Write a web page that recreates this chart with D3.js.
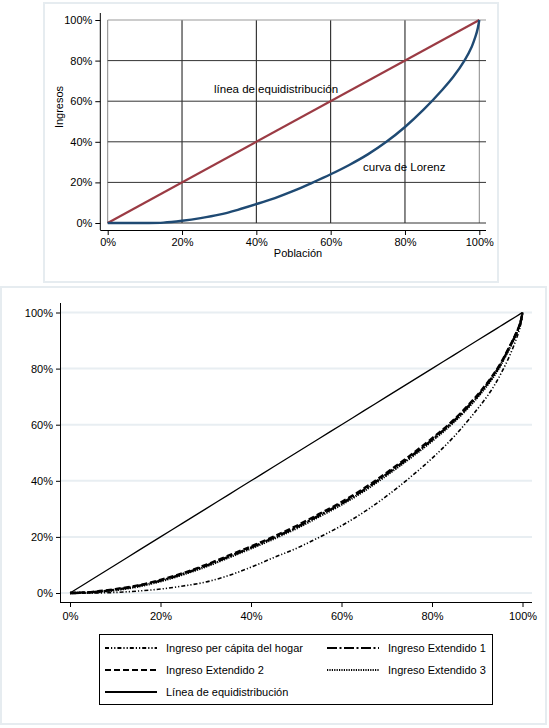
<!DOCTYPE html>
<html>
<head>
<meta charset="utf-8">
<script src="https://cdn.jsdelivr.net/npm/d3@7"></script>
<style>
    body { margin: 0; background: #fff; }
    svg text { font-family: "Liberation Sans", Arial, sans-serif; fill: #000; }
</style>
</head>
<body>
<div id="chart"></div>
<script>
// ---- data ----
var ticks = [0, 20, 40, 60, 80, 100];

// top chart: Lorenz curve example
var lorenzPop = [0, 10, 15, 20, 25, 30, 35, 40, 45, 50, 55, 60, 65, 70, 75, 80, 85, 90, 93, 96, 98, 99, 99.6, 100];
var lorenzInc = [0, 0, 0.2, 1.1, 2.4, 4.1, 6.5, 9.3, 12.3, 15.8, 19.8, 24, 28.6, 33.8, 40, 47.3, 55.8, 65.5, 72, 80, 87, 92, 96, 100];

// bottom chart: four income definitions
var pop = [0, 5, 10, 15, 20, 25, 30, 35, 40, 45, 50, 55, 60, 65, 70, 75, 80, 85, 90, 93, 95, 97, 98.5, 99.5, 100];
var percapita = [0, 0, 0.2, 0.7, 1.4, 2.5, 3.9, 6.2, 9.2, 12.6, 15.9, 19.8, 24, 28.9, 34.6, 41, 48, 56, 65.5, 72, 77.5, 84, 90, 95, 100];
var extendido1 = [0, 0.3, 1.2, 2.5, 4.4, 6.8, 9.7, 12.9, 16.2, 19.7, 23.4, 27.6, 31.9, 36.8, 42.4, 48.3, 54.6, 61.6, 70.1, 76.2, 81.1, 87.2, 92.1, 96.1, 100];
var extendido2 = [0, 0.4, 1.4, 2.7, 4.7, 7.1, 10.0, 13.3, 16.6, 20.1, 23.9, 28.1, 32.4, 37.3, 42.9, 48.8, 55.1, 62.0, 70.5, 76.6, 81.4, 87.4, 92.3, 96.2, 100];
var extendido3 = [0, 0.2, 1.0, 2.3, 4.2, 6.6, 9.4, 12.6, 15.9, 19.3, 23.0, 27.2, 31.5, 36.4, 42.0, 47.9, 54.2, 61.2, 69.7, 75.8, 80.8, 86.9, 91.9, 96.0, 100];

var legendLabels = ["Ingreso per cápita del hogar", "Ingreso Extendido 1", "Ingreso Extendido 2",
                    "Ingreso Extendido 3", "Línea de equidistribución"];

function pct(d) { return d + "%"; }

function init() {
    var svg = d3.select("#chart")
        .append("svg")
        .attr("width", 549)
        .attr("height", 728);

    topChart(svg);
    bottomChart(svg);
}

function topChart(svg) {
    svg.append("rect")
        .attr("x", 44).attr("y", 3)
        .attr("width", 454).attr("height", 279)
        .style("fill", "#fff")
        .style("stroke", "#e6ecf0")
        .style("stroke-width", 2);

    var xScale = d3.scaleLinear().domain([0, 100]).range([107.7, 479.3]);
    var yScale = d3.scaleLinear().domain([0, 100]).range([223, 20]);

    var g = svg.append("g");

    // grid
    g.selectAll(".vgrid")
        .data(ticks)
        .enter().append("line")
        .attr("x1", function(d) { return xScale(d); })
        .attr("x2", function(d) { return xScale(d); })
        .attr("y1", yScale(100))
        .attr("y2", yScale(0))
        .style("stroke", function(d) { return (d == 0 || d == 100) ? "#888" : "#111"; })
        .style("stroke-width", 1);

    g.selectAll(".hgrid")
        .data(ticks)
        .enter().append("line")
        .attr("x1", xScale(0))
        .attr("x2", 486)
        .attr("y1", function(d) { return yScale(d); })
        .attr("y2", function(d) { return yScale(d); })
        .style("stroke", function(d) { return d == 100 ? "#999" : "#333"; })
        .style("stroke-width", 1);

    // axes
    var xAxis = g.append("g")
        .attr("transform", "translate(0,230)")
        .call(d3.axisBottom(xScale).tickValues(ticks).tickFormat(pct).tickSize(5).tickPadding(3));
    xAxis.select(".domain").attr("d", "M100.3,0.5H486");

    var yAxis = g.append("g")
        .attr("transform", "translate(100.3,0)")
        .call(d3.axisLeft(yScale).tickValues(ticks).tickFormat(pct).tickSize(5).tickPadding(3));
    yAxis.select(".domain").attr("d", "M0,13V230");

    g.selectAll(".tick text")
        .style("font-size", "11px")
        .style("font-family", "Liberation Sans, Arial, sans-serif");

    var line = d3.line()
        .x(function(d) { return xScale(d[0]); })
        .y(function(d) { return yScale(d[1]); })
        .curve(d3.curveCatmullRom.alpha(0.5));

    // equidistribution line
    g.append("path")
        .datum([[0, 0], [100, 100]])
        .attr("d", line)
        .style("stroke", "#9b3b44")
        .style("stroke-width", 2.2)
        .style("fill", "none");

    // Lorenz curve
    g.append("path")
        .datum(d3.zip(lorenzPop, lorenzInc))
        .attr("d", line)
        .style("stroke", "#1f4a73")
        .style("stroke-width", 2.4)
        .style("fill", "none");

    g.append("text")
        .attr("x", 214).attr("y", 93)
        .style("font-size", "11.5px")
        .text("línea de equidistribución");

    g.append("text")
        .attr("x", 363).attr("y", 171)
        .style("font-size", "11.5px")
        .text("curva de Lorenz");

    g.append("text")
        .attr("transform", "translate(63,107) rotate(-90)")
        .attr("text-anchor", "middle")
        .style("font-size", "11px")
        .text("Ingresos");

    g.append("text")
        .attr("x", 298).attr("y", 257)
        .attr("text-anchor", "middle")
        .style("font-size", "11px")
        .text("Población");
}

function bottomChart(svg) {
    svg.append("rect")
        .attr("x", 1).attr("y", 287)
        .attr("width", 545).attr("height", 437)
        .style("fill", "#fff")
        .style("stroke", "#e6ecf0")
        .style("stroke-width", 2);

    var xScale = d3.scaleLinear().domain([0, 100]).range([70, 522.5]);
    var yScale = d3.scaleLinear().domain([0, 100]).range([593, 312.5]);

    var g = svg.append("g");

    g.selectAll(".grid")
        .data(ticks)
        .enter().append("line")
        .attr("x1", 60)
        .attr("x2", 532)
        .attr("y1", function(d) { return yScale(d); })
        .attr("y2", function(d) { return yScale(d); })
        .style("stroke", "#e8eef2")
        .style("stroke-width", 2);

    var xAxis = g.append("g")
        .attr("transform", "translate(0,602)")
        .call(d3.axisBottom(xScale).tickValues(ticks).tickFormat(pct).tickSize(5).tickPadding(5));
    xAxis.select(".domain").attr("d", "M60,0.5H532");

    var yAxis = g.append("g")
        .attr("transform", "translate(60,0)")
        .call(d3.axisLeft(yScale).tickValues(ticks).tickFormat(pct).tickSize(4).tickPadding(3));
    yAxis.select(".domain").attr("d", "M0.5,303V602");

    g.selectAll(".tick text")
        .style("font-size", "11px")
        .style("font-family", "Liberation Sans, Arial, sans-serif");

    var line = d3.line()
        .x(function(d) { return xScale(d[0]); })
        .y(function(d) { return yScale(d[1]); })
        .curve(d3.curveCatmullRom.alpha(0.5));

    var series = [
        { name: legendLabels[0], values: percapita, dash: "4,2,1.2,2,1.2,2", width: 1.6 },
        { name: legendLabels[1], values: extendido1, dash: "10,2.5,2,2.5", width: 2.4 },
        { name: legendLabels[2], values: extendido2, dash: "6,3", width: 2.4 },
        { name: legendLabels[3], values: extendido3, dash: "1.2,1.2", width: 2.4 },
        { name: legendLabels[4], values: pop, dash: null, width: 1.3 }
    ];

    series.forEach(function(s) {
        g.append("path")
            .datum(d3.zip(pop, s.values))
            .attr("d", line)
            .style("stroke", "#000")
            .style("stroke-width", s.width)
            .style("stroke-dasharray", s.dash)
            .style("fill", "none");
    });

    // legend
    var legend = svg.append("g");
    legend.append("rect")
        .attr("x", 99.5).attr("y", 634.5)
        .attr("width", 393).attr("height", 70)
        .style("fill", "#fff")
        .style("stroke", "#000")
        .style("stroke-width", 1);

    var slots = [[105, 648], [327, 648], [105, 670], [327, 670], [105, 692]];
    series.forEach(function(s, i) {
        var p = slots[i];
        legend.append("line")
            .attr("x1", p[0]).attr("x2", p[0] + 52)
            .attr("y1", p[1]).attr("y2", p[1])
            .style("stroke", "#000")
            .style("stroke-width", 2)
            .style("stroke-dasharray", s.dash);
        legend.append("text")
            .attr("x", p[0] + 61)
            .attr("y", p[1] + 4)
            .style("font-size", "11px")
            .text(s.name);
    });
}

init();
</script>
</body>
</html>
